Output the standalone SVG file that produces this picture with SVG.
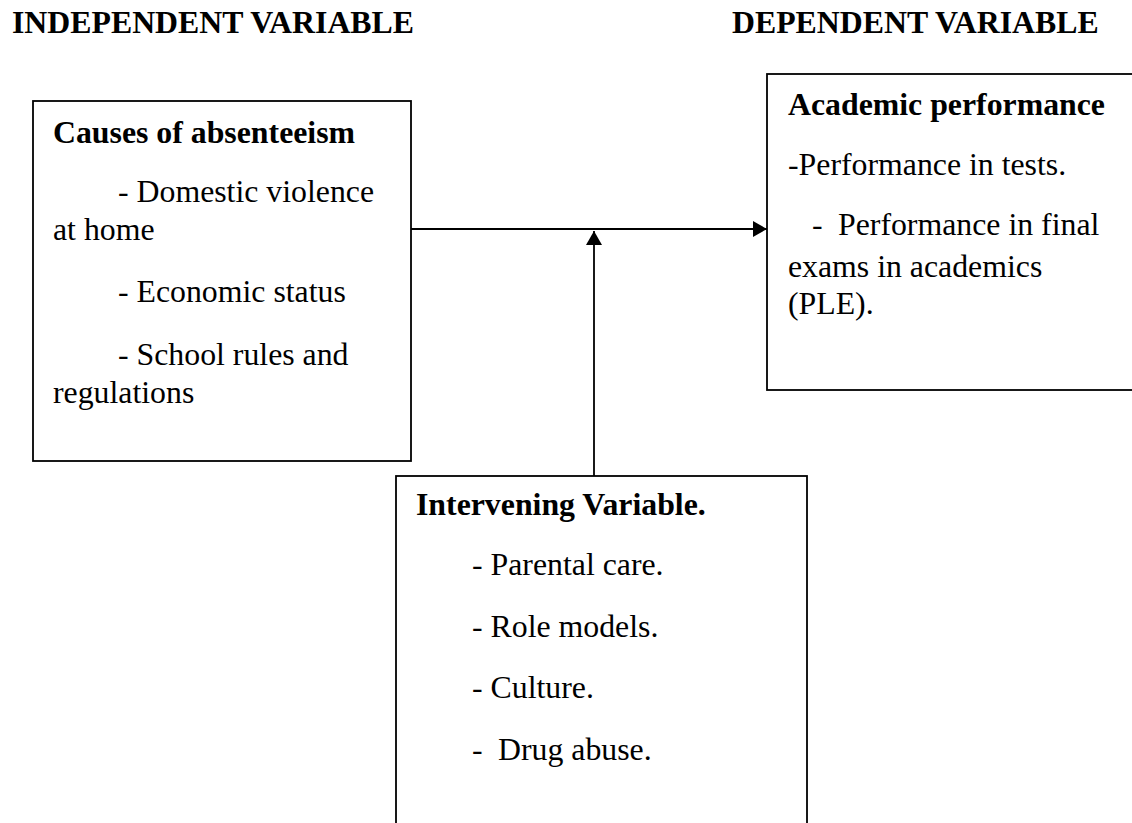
<svg xmlns="http://www.w3.org/2000/svg" width="1132" height="823" viewBox="0 0 1132 823">
<style>
text{font-family:"Liberation Serif","Times New Roman",serif;font-size:31.8px;fill:#000}
.b{font-weight:bold}
.box{fill:#fff;stroke:#000;stroke-width:1.8}
.conn{stroke:#000;stroke-width:1.8;fill:none}
</style>
<defs>
<marker id="ah" viewBox="0 0 14 16" refX="14" refY="8" markerWidth="14" markerHeight="16" markerUnits="userSpaceOnUse" orient="auto">
<path d="M0,0 L14,8 L0,16 Z" fill="#000"/>
</marker>
</defs>
<rect width="1132" height="823" fill="#fff"/>
<g id="titles">
<text class="b" x="12" y="33">INDEPENDENT VARIABLE</text>
<text class="b" x="732" y="33">DEPENDENT VARIABLE</text>
</g>
<g id="node-independent">
<rect class="box" x="33" y="101" width="378" height="360"/>
<text class="b" x="53" y="143">Causes of absenteeism</text>
<text x="118" y="202">- Domestic violence</text>
<text x="53" y="240">at home</text>
<text x="118" y="302">- Economic status</text>
<text x="118" y="365">- School rules and</text>
<text x="53" y="403">regulations</text>
</g>
<g id="node-dependent">
<rect class="box" x="767" y="74" width="380" height="316"/>
<text class="b" x="788" y="115">Academic performance</text>
<text x="788" y="175">-Performance in tests.</text>
<text x="812" y="235">-</text>
<text x="838" y="235">Performance in final</text>
<text x="788" y="277">exams in academics</text>
<text x="788" y="314">(PLE).</text>
</g>
<g id="node-intervening">
<rect class="box" x="396" y="476" width="411" height="360"/>
<text class="b" x="416" y="515">Intervening Variable.</text>
<text x="472" y="575">- Parental care.</text>
<text x="472" y="637">- Role models.</text>
<text x="472" y="698">- Culture.</text>
<text x="472" y="760">-</text>
<text x="498" y="760">Drug abuse.</text>
</g>
<g id="connectors">
<line class="conn" x1="411" y1="229" x2="767" y2="229" marker-end="url(#ah)"/>
<line class="conn" x1="594" y1="476" x2="594" y2="231" marker-end="url(#ah)"/>
</g>
</svg>
